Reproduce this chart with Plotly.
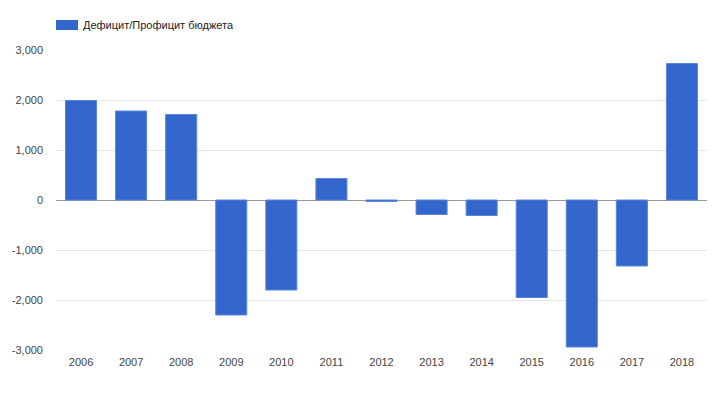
import plotly.graph_objects as go

years = ["2006", "2007", "2008", "2009", "2010", "2011", "2012",
         "2013", "2014", "2015", "2016", "2017", "2018"]
balance = [1990, 1780, 1710, -2300, -1800, 430, -30,
           -290, -310, -1950, -2940, -1320, 2730]
series_name = "Дефицит/Профицит бюджета"
y_ticks = [-3000, -2000, -1000, 0, 1000, 2000, 3000]
y_tick_labels = ["-3,000", "-2,000", "-1,000", "0", "1,000", "2,000", "3,000"]

W, H = 725, 395
# page body adds an 8px offset, margins compensate for it
L, R, T, B = 48, 26, 42, 53
PW, PH = W - L - R, H - T - B

fig = go.Figure()
fig.add_trace(go.Bar(
    x=years, y=balance, name=series_name,
    marker=dict(color="#3366cc", line=dict(color="#5a85db", width=1)),
    showlegend=False,
))

# legend swatch + label (Google-Charts-like legend)
fig.add_shape(type="rect", xref="paper", yref="paper",
              x0=0, x1=22 / PW,
              y0=1 + (T - 22) / PH, y1=1 + (T - 12) / PH,
              fillcolor="#3366cc", line=dict(width=0))
fig.add_annotation(text=series_name, xref="paper", yref="paper",
                   x=25 / PW, y=1 + (T - 17) / PH,
                   xanchor="left", yanchor="middle", showarrow=False,
                   font=dict(size=11, color="#222222"))

fig.update_layout(
    width=W, height=H,
    margin=dict(l=L, r=R, t=T, b=B, autoexpand=False),
    paper_bgcolor="white", plot_bgcolor="white",
    font=dict(family="Arial, Liberation Sans, sans-serif", size=11, color="#444444"),
    bargap=0.38,
    showlegend=False,
    xaxis=dict(
        type="category", showgrid=False, showline=False, ticks="",
        ticklabelstandoff=4,
        tickfont=dict(size=11, color="#444444"), automargin=False,
    ),
    yaxis=dict(
        range=[-3000, 3000], tickvals=y_ticks, ticktext=y_tick_labels,
        showgrid=True, gridcolor="#e6e6e6", gridwidth=1,
        zeroline=True, zerolinecolor="#999999", zerolinewidth=1,
        showline=False, ticks="", ticklabelstandoff=12, automargin=False,
        tickfont=dict(size=11, color="#444444"),
    ),
)

fig.write_html("out.html")
